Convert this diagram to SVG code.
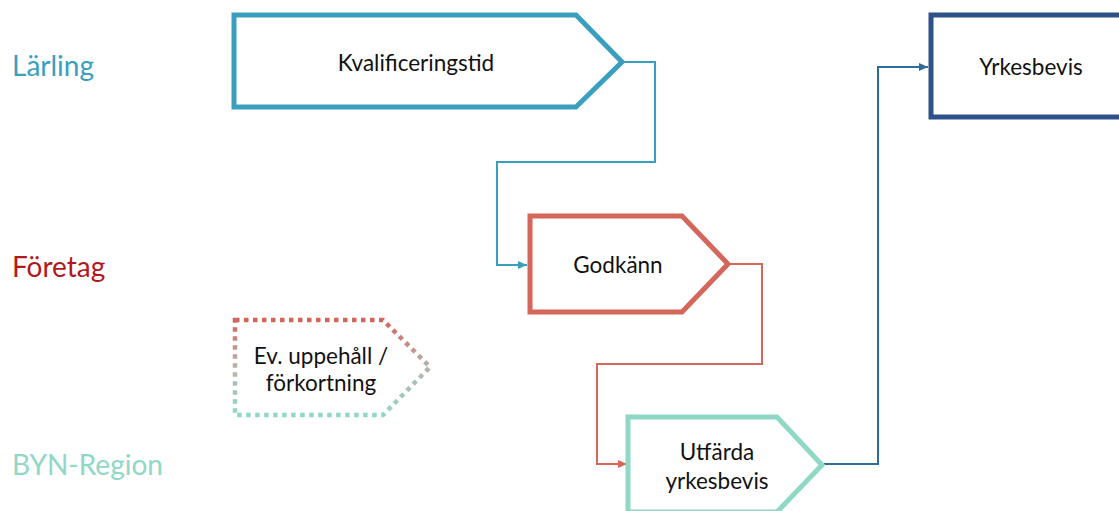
<svg xmlns="http://www.w3.org/2000/svg" width="1119" height="511" viewBox="0 0 1119 511">
<style>
.lane{font-family:Lato,"Open Sans","Liberation Sans",sans-serif;font-size:28px}
.lbl{font-family:Lato,"Open Sans","Liberation Sans",sans-serif;font-size:22.5px;fill:#111;text-anchor:middle}
.box{fill:#fff;stroke-width:5;stroke-linejoin:miter}
.conn{fill:none;stroke-width:2}
</style>
<defs>
<linearGradient id="dotg" x1="0" y1="0" x2="0" y2="1">
<stop offset="0" stop-color="#d0665c"/>
<stop offset="0.5" stop-color="#b9b3a8"/>
<stop offset="1" stop-color="#8fd8c6"/>
</linearGradient>
<marker id="arTeal" markerUnits="userSpaceOnUse" markerWidth="10" markerHeight="10" refX="9" refY="5" orient="auto"><path d="M0,1 L9,5 L0,9 Z" fill="#3a9fbf"/></marker>
<marker id="arRed" markerUnits="userSpaceOnUse" markerWidth="10" markerHeight="10" refX="9" refY="5" orient="auto"><path d="M0,1 L9,5 L0,9 Z" fill="#d5665a"/></marker>
<marker id="arBlue" markerUnits="userSpaceOnUse" markerWidth="10" markerHeight="10" refX="9" refY="5" orient="auto"><path d="M0,1 L9,5 L0,9 Z" fill="#2d6c9c"/></marker>
</defs>
<rect width="1119" height="511" fill="#fff"/>

<g id="lanes">
<text class="lane" x="12" y="76" fill="#3a9fbf">Lärling</text>
<text class="lane" x="12" y="277" fill="#b0191c">Företag</text>
<text class="lane" x="12" y="475" fill="#8fd8c6">BYN-Region</text>
</g>

<g id="connectors">
<polyline class="conn" stroke="#3a9fbf" points="624,62 655,62 655,162 497,162 497,265 527,265" marker-end="url(#arTeal)"/>
<polyline class="conn" stroke="#d5665a" points="730,264 762,264 762,364 597,364 597,464 627,464" marker-end="url(#arRed)"/>
<polyline class="conn" stroke="#2d6c9c" points="824,464 878,464 878,67 928,67" marker-end="url(#arBlue)"/>
</g>

<g id="kvalificeringstid">
<polygon class="box" stroke="#3a9fbf" points="234,15 576,15 622,62 576,107 234,107"/>
<text class="lbl" x="416" y="71">Kvalificeringstid</text>
</g>

<g id="godkann">
<polygon class="box" stroke="#d5665a" points="530,216 682,216 728,264 682,312 530,312"/>
<text class="lbl" x="618" y="273">Godkänn</text>
</g>

<g id="utfarda">
<polygon class="box" stroke="#8fd8c6" points="628,417 777,417 822,465 777,512 628,512"/>
<text class="lbl" x="717" y="460">Utfärda</text>
<text class="lbl" x="717" y="489">yrkesbevis</text>
</g>

<g id="yrkesbevis">
<rect class="box" stroke="#2e5189" x="931" y="15" width="195" height="102"/>
<text class="lbl" x="1031" y="75">Yrkesbevis</text>
</g>

<g id="uppehall">
<polygon fill="#fff" stroke="url(#dotg)" stroke-width="4.5" stroke-dasharray="4.5,4.5" points="235,320 383,320 430,367 383,415 235,415"/>
<text class="lbl" x="321" y="364">Ev. uppehåll /</text>
<text class="lbl" x="321" y="391">förkortning</text>
</g>
</svg>
